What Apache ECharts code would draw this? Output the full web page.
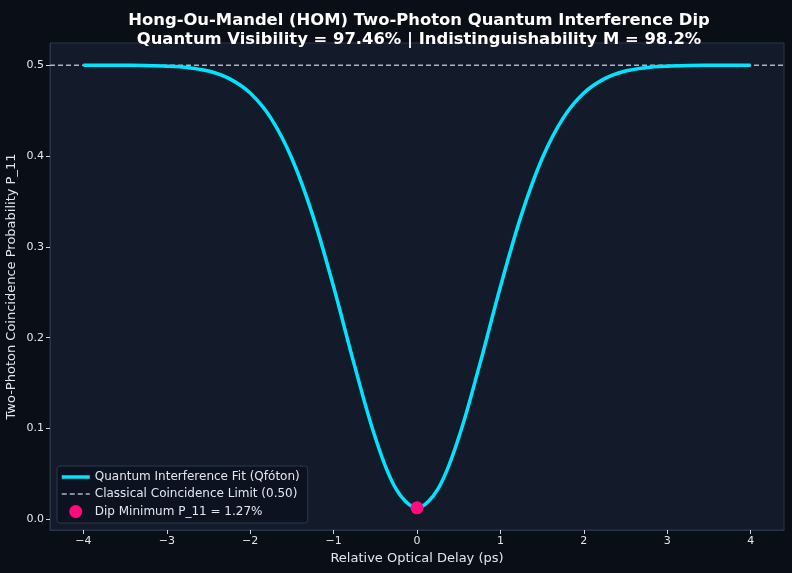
<!DOCTYPE html>
<html>
<head>
<meta charset="utf-8">
<script src="https://cdn.jsdelivr.net/npm/echarts@6/dist/echarts.min.js"></script>
<style>
html,body{margin:0;padding:0;background:#0a0e17;}
#main{width:792px;height:573px;}
</style>
</head>
<body>
<div id="main"></div>
<script>
// relative optical delay (ps)
var delay = [-4, -3.75, -3.5, -3.25, -3, -2.75, -2.5, -2.25, -2, -1.75, -1.5, -1.25, -1, -0.75, -0.5, -0.25,
             0, 0.25, 0.5, 0.75, 1, 1.25, 1.5, 1.75, 2, 2.25, 2.5, 2.75, 3, 3.25, 3.5, 3.75, 4];
// coincidence probability P_11
var p11 = [0.5000, 0.5000, 0.4999, 0.4997, 0.4990, 0.4974, 0.4936, 0.4853, 0.4694, 0.4415, 0.3973, 0.3347, 0.2561, 0.1698, 0.0901, 0.0333,
           0.0127, 0.0333, 0.0901, 0.1698, 0.2561, 0.3347, 0.3973, 0.4415, 0.4694, 0.4853, 0.4936, 0.4974, 0.4990, 0.4997, 0.4999, 0.5000, 0.5000];
var classicalLimit = 0.5;
var dipPoint = [0, 0.0127];
var xTicks = [-4, -3, -2, -1, 0, 1, 2, 3, 4];
var yTicks = [0, 0.1, 0.2, 0.3, 0.4, 0.5];

var font = 'DejaVu Sans';
var chart = echarts.init(document.getElementById('main'));

var curve = [];
for (var i = 0; i < delay.length; i++) curve.push([delay[i], p11[i]]);

var option = {
    backgroundColor: '#0a0e17',
    animation: false,
    title: {
        text: 'Hong-Ou-Mandel (HOM) Two-Photon Quantum Interference Dip\nQuantum Visibility = 97.46% | Indistinguishability M = 98.2%',
        left: 414,
        top: 6,
        textAlign: 'center',
        textStyle: { color: '#ffffff', fontFamily: font, fontWeight: 'bold', fontSize: 16.4, lineHeight: 19 }
    },
    legend: {
        orient: 'vertical',
        left: 57,
        bottom: 50,
        padding: [5, 8, 5, 3],
        itemGap: 5,
        itemWidth: 28,
        itemHeight: 13,
        backgroundColor: '#0d1220',
        borderColor: '#2c3650',
        borderWidth: 1,
        borderRadius: 3,
        textStyle: { color: '#e2e6ee', fontFamily: font, fontSize: 12 },
        data: [
            { name: 'Quantum Interference Fit (Qfóton)', itemStyle: { opacity: 0 }, lineStyle: { width: 3.5 } },
            { name: 'Classical Coincidence Limit (0.50)', itemStyle: { opacity: 0 }, lineStyle: { width: 1.3 } },
            { name: 'Dip Minimum P_11 = 1.27%' }
        ]
    },
    grid: {
        left: 50, right: 8, top: 43, bottom: 43,
        outerBoundsMode: 'none',
        containLabel: false,
        show: true,
        backgroundColor: '#131a2a',
        borderColor: '#2a3448',
        borderWidth: 1
    },
    xAxis: {
        type: 'value',
        min: -4.4,
        max: 4.4,
        name: 'Relative Optical Delay (ps)',
        nameLocation: 'middle',
        nameGap: 22,
        nameMoveOverlap: false,
        nameTextStyle: { color: '#e2e6ee', fontFamily: font, fontSize: 13 },
        axisLine: { show: true, onZero: false, lineStyle: { color: '#2a3448' } },
        axisTick: { show: true, length: 4, lineStyle: { color: '#d0d4dc' }, customValues: xTicks },
        axisLabel: {
            color: '#e2e6ee', fontFamily: font, fontSize: 11, margin: 6,
            customValues: xTicks,
            formatter: function (v) { return v < 0 ? '\u2212' + Math.abs(v) : String(v); }
        },
        splitLine: { show: false }
    },
    yAxis: {
        type: 'value',
        min: -0.0117,
        max: 0.5245,
        name: 'Two-Photon Coincidence Probability P_11',
        nameLocation: 'middle',
        nameGap: 32,
        nameMoveOverlap: false,
        nameTextStyle: { color: '#e2e6ee', fontFamily: font, fontSize: 13 },
        axisLine: { show: true, onZero: false, lineStyle: { color: '#2a3448' } },
        axisTick: { show: true, length: 4, lineStyle: { color: '#d0d4dc' }, customValues: yTicks },
        axisLabel: {
            color: '#e2e6ee', fontFamily: font, fontSize: 11, margin: 6,
            customValues: yTicks,
            formatter: function (v) { return v.toFixed(1); }
        },
        splitLine: { show: false }
    },
    series: [
        {
            name: 'Classical Coincidence Limit (0.50)',
            type: 'line',
            data: [[-4.4, classicalLimit], [4.4, classicalLimit]],
            symbol: 'none',
            lineStyle: { color: '#a9b6cc', width: 1.3, type: [5, 3] },
            itemStyle: { color: '#a9b6cc' },
            z: 1
        },
        {
            name: 'Quantum Interference Fit (Qfóton)',
            type: 'line',
            data: curve,
            smooth: 0.35,
            symbol: 'none',
            lineStyle: { color: '#00e5ff', width: 3.5 },
            itemStyle: { color: '#00e5ff' },
            z: 2
        },
        {
            name: 'Dip Minimum P_11 = 1.27%',
            type: 'scatter',
            data: [dipPoint],
            symbolSize: 13,
            itemStyle: { color: '#ff0a7f', opacity: 1 },
            z: 3
        }
    ]
};
chart.setOption(option);
</script>
</body>
</html>
